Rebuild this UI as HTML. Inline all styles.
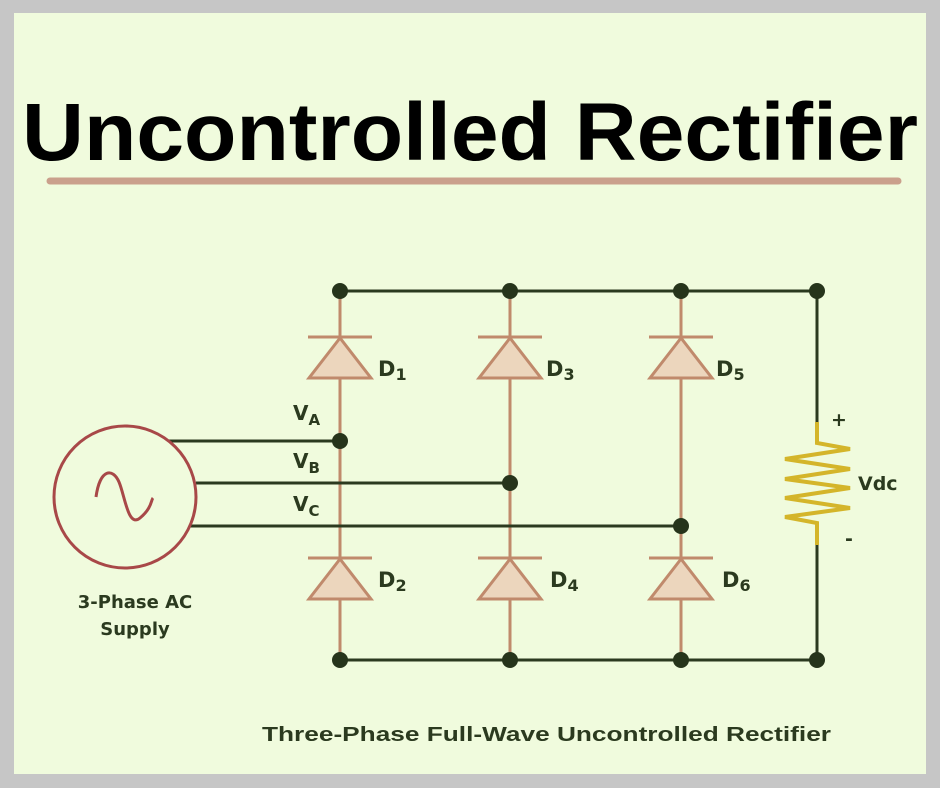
<!DOCTYPE html>
<html><head><meta charset="utf-8"><style>
html,body{margin:0;padding:0;background:#c8c8c8;}
svg{display:block}
</style></head><body>
<svg width="940" height="788" viewBox="0 0 940 788" xmlns="http://www.w3.org/2000/svg" font-family="DejaVu Sans, Liberation Sans, sans-serif">
<rect x="0" y="0" width="940" height="788" fill="#c6c6c6"/>
<rect x="14" y="13" width="912" height="761" fill="#f0fbdd"/>
<text x="22" y="160" font-size="82" font-weight="bold" fill="#000" font-family="Liberation Sans, sans-serif" textLength="896" lengthAdjust="spacingAndGlyphs">Uncontrolled Rectifier</text>
<line x1="50" y1="181" x2="898" y2="181" stroke="#caa08c" stroke-width="7" stroke-linecap="round"/>
<g stroke="#c08a6c" stroke-width="3" fill="none">
<line x1="340" y1="291" x2="340" y2="660"/>
<line x1="510" y1="291" x2="510" y2="660"/>
<line x1="681" y1="291" x2="681" y2="660"/>
</g>
<g stroke="#c08a6c" stroke-width="3" fill="#ecd6bd">
<polygon points="340,338 309,378 371,378"/><line x1="308" y1="337" x2="372" y2="337"/>
<polygon points="510,338 479,378 541,378"/><line x1="478" y1="337" x2="542" y2="337"/>
<polygon points="681,338 650,378 712,378"/><line x1="649" y1="337" x2="713" y2="337"/>
<polygon points="340,559 309,599 371,599"/><line x1="308" y1="558" x2="372" y2="558"/>
<polygon points="510,559 479,599 541,599"/><line x1="478" y1="558" x2="542" y2="558"/>
<polygon points="681,559 650,599 712,599"/><line x1="649" y1="558" x2="713" y2="558"/>
</g>
<g stroke="#2b3a1f" stroke-width="3" fill="none">
<line x1="340" y1="291" x2="817" y2="291"/>
<line x1="340" y1="660" x2="817" y2="660"/>
<line x1="817" y1="291" x2="817" y2="422"/>
<line x1="817" y1="535" x2="817" y2="660"/>
<line x1="168" y1="441" x2="340" y2="441"/>
<line x1="196" y1="483" x2="510" y2="483"/>
<line x1="190" y1="526" x2="681" y2="526"/>
</g>
<polyline points="817,422 817,443 850,449 785,459 850,469 785,479 850,488 785,498 850,508 785,517 817,523 817,545" stroke="#d4b52a" stroke-width="4" fill="none"/>
<g fill="#26341b">
<circle cx="340" cy="291" r="8"/><circle cx="510" cy="291" r="8"/><circle cx="681" cy="291" r="8"/><circle cx="817" cy="291" r="8"/>
<circle cx="340" cy="660" r="8"/><circle cx="510" cy="660" r="8"/><circle cx="681" cy="660" r="8"/><circle cx="817" cy="660" r="8"/>
<circle cx="340" cy="441" r="8"/><circle cx="510" cy="483" r="8"/><circle cx="681" cy="526" r="8"/>
</g>
<circle cx="125" cy="497" r="71" stroke="#a84848" stroke-width="3" fill="none"/>
<path d="M96,497 C100,468 113,468 119,482 S 128,528 140,518 S 151,500 153,498" stroke="#a84848" stroke-width="3" fill="none"/>
<g fill="#2b3a1f" font-weight="bold">
<text x="378" y="376" font-size="21">D<tspan font-size="16" dy="4">1</tspan></text>
<text x="546" y="376" font-size="21">D<tspan font-size="16" dy="4">3</tspan></text>
<text x="716" y="376" font-size="21">D<tspan font-size="16" dy="4">5</tspan></text>
<text x="378" y="587" font-size="21">D<tspan font-size="16" dy="4">2</tspan></text>
<text x="550" y="587" font-size="21">D<tspan font-size="16" dy="4">4</tspan></text>
<text x="722" y="587" font-size="21">D<tspan font-size="16" dy="4">6</tspan></text>
<text x="293" y="420" font-size="20">V<tspan font-size="15" dy="5">A</tspan></text>
<text x="293" y="468" font-size="20">V<tspan font-size="15" dy="5">B</tspan></text>
<text x="293" y="511" font-size="20">V<tspan font-size="15" dy="5">C</tspan></text>
<text x="858" y="490" font-size="19">Vdc</text>
<text x="831" y="426" font-size="19">+</text>
<text x="845" y="545" font-size="19">-</text>
<text x="135" y="608" font-size="18" text-anchor="middle">3-Phase AC</text>
<text x="135" y="635" font-size="18" text-anchor="middle">Supply</text>
<text x="262" y="741" font-size="20" font-family="Liberation Sans, sans-serif" textLength="569" lengthAdjust="spacingAndGlyphs">Three-Phase Full-Wave Uncontrolled Rectifier</text>
</g>
</svg>
</body></html>
